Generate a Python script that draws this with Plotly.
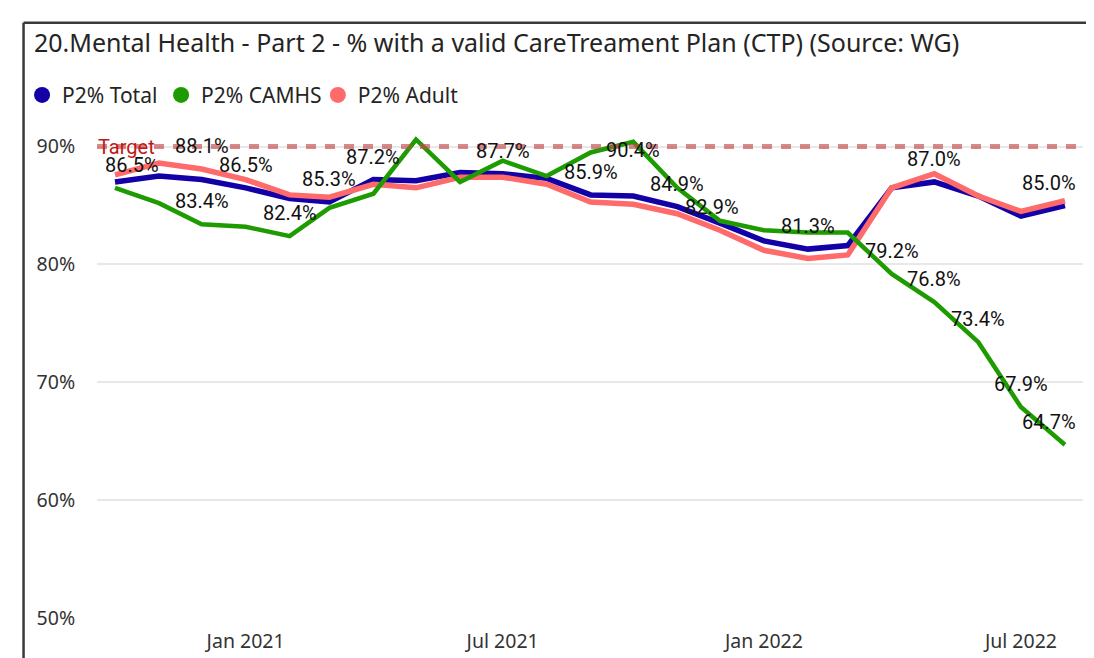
import plotly.graph_objects as go

months = ["2020-10-01", "2020-11-01", "2020-12-01", "2021-01-01", "2021-02-01", "2021-03-01",
          "2021-04-01", "2021-05-01", "2021-06-01", "2021-07-01", "2021-08-01", "2021-09-01",
          "2021-10-01", "2021-11-01", "2021-12-01", "2022-01-01", "2022-02-01", "2022-03-01",
          "2022-04-01", "2022-05-01", "2022-06-01", "2022-07-01", "2022-08-01"]

p2_total = [87.0, 87.5, 87.2, 86.5, 85.6, 85.3, 87.2, 87.1, 87.8, 87.7, 87.3, 85.9,
            85.8, 84.9, 83.5, 82.0, 81.3, 81.6, 86.5, 87.0, 85.8, 84.1, 85.0]
p2_camhs = [86.5, 85.2, 83.4, 83.2, 82.4, 84.8, 86.0, 90.6, 87.0, 88.8, 87.5, 89.5,
            90.4, 86.5, 83.7, 82.9, 82.7, 82.7, 79.2, 76.8, 73.4, 67.9, 64.7]
p2_adult = [87.6, 88.6, 88.1, 87.2, 85.9, 85.7, 86.8, 86.5, 87.4, 87.4, 86.8, 85.3,
            85.1, 84.3, 82.9, 81.2, 80.5, 80.8, 86.5, 87.7, 85.8, 84.5, 85.4]

target = 90.0

series_names = ["P2% Total", "P2% CAMHS", "P2% Adult"]
series_colors = ["#1300A6", "#1E9B00", "#FF6A6A"]

# data labels shown: month indices per series
labels_total = [3, 5, 6, 9, 11, 13, 16, 19, 22]
labels_camhs = [0, 2, 4, 12, 18, 19, 20, 21, 22]
labels_adult = [2, 14]

tick_vals = ["2021-01-01", "2021-07-01", "2022-01-01", "2022-07-01"]
tick_text = ["Jan 2021", "Jul 2021", "Jan 2022", "Jul 2022"]
y_ticks = [50, 60, 70, 80, 90]
y_ticktext = ["50%", "60%", "70%", "80%", "90%"]

fig = go.Figure()

values = {"P2% Total": p2_total, "P2% CAMHS": p2_camhs, "P2% Adult": p2_adult}
widths = {"P2% Total": 5.5, "P2% CAMHS": 4.5, "P2% Adult": 5.5}
draw_order = ["P2% Total", "P2% Adult", "P2% CAMHS"]
colors = dict(zip(series_names, series_colors))

for name in draw_order:
    fig.add_trace(go.Scatter(x=months, y=values[name], mode="lines", name=name,
                             line=dict(color=colors[name], width=widths[name]),
                             showlegend=False, hoverinfo="x+y"))

# one legend per series so each entry can be placed like the original
legend_ids = ["legend", "legend2", "legend3"]
legend_x = [-0.076, 0.065, 0.224]
for name, lid in zip(series_names, legend_ids):
    fig.add_trace(go.Scatter(x=[None], y=[None], mode="markers", name=name, legend=lid,
                             marker=dict(color=colors[name], size=16, symbol="circle")))

label_font = dict(family="Roboto, DejaVu Sans", size=20, color="#111111")

def add_labels(vals, idxs):
    for i in idxs:
        xshift = 0
        yshift = 23
        if i == 0:
            xshift = 17
        if i == len(months) - 1:
            xshift = -16
        if vals is p2_camhs and i == 12:
            yshift = -8
        if vals is p2_adult and i == 14:
            xshift = -8
        fig.add_annotation(x=months[i], y=vals[i], text=f"{vals[i]:.1f}%", showarrow=False,
                           xref="x", yref="y", xshift=xshift, yshift=yshift, font=label_font)

add_labels(p2_total, labels_total)
add_labels(p2_camhs, labels_camhs)
add_labels(p2_adult, labels_adult)

# target line
fig.add_shape(type="line", xref="paper", x0=0, x1=1, yref="y", y0=target, y1=target,
              line=dict(color="rgba(195,75,75,0.65)", width=5, dash="10px,9px"), layer="above")
fig.add_annotation(xref="paper", x=0.0, yref="y", y=target, text="Target", showarrow=False,
                   xanchor="left", yanchor="middle", xshift=-1,
                   font=dict(family="Roboto, DejaVu Sans", size=20, color="#C01818"))

# visual border
fig.add_shape(type="line", xref="paper", yref="paper", x0=-0.0745, x1=1.03, y0=1.2025, y1=1.2025,
              line=dict(color="#3a3a3a", width=2.5))
fig.add_shape(type="line", xref="paper", yref="paper", x0=-0.0745, x1=-0.0745, y0=1.2025, y1=-0.12,
              line=dict(color="#3a3a3a", width=2.5))

legend_style = dict(orientation="h", xanchor="left", y=1.056, yanchor="middle",
                    font=dict(family="Noto Sans, Open Sans", size=21, color="#252423"),
                    itemwidth=30, bgcolor="rgba(0,0,0,0)")

# page body has an 8px margin: shift everything up/left by 8px
fig.update_layout(
    width=1094, height=658,
    margin=dict(l=89, r=19, t=115, b=39),
    paper_bgcolor="white", plot_bgcolor="white",
    title=dict(text="20.Mental Health - Part 2 - % with a valid CareTreament Plan (CTP) (Source: WG)",
               x=26 / 1094, xanchor="left", xref="container",
               y=1 - 35 / 658, yanchor="middle", yref="container",
               font=dict(family="Noto Sans, Open Sans", size=25, color="#252423")),
    legend=dict(x=legend_x[0], **legend_style),
    legend2=dict(x=legend_x[1], **legend_style),
    legend3=dict(x=legend_x[2], **legend_style),
    font=dict(family="Noto Sans, Open Sans", color="#444444"),
)

fig.update_xaxes(type="date", range=["2020-09-18 08:00", "2022-08-13 17:00"],
                 tickvals=tick_vals, ticktext=tick_text, showgrid=False, zeroline=False,
                 showline=False, ticks="outside", ticklen=6, tickcolor="white",
                 tickfont=dict(family="Noto Sans, Open Sans", size=19.5, color="#333333"))
fig.update_yaxes(range=[50, 92], tickvals=y_ticks, ticktext=y_ticktext,
                 showgrid=True, gridcolor="#E8E8E8", gridwidth=2, zeroline=False,
                 showline=False, ticks="outside", ticklen=17, tickcolor="white",
                 tickfont=dict(family="Noto Sans, Open Sans", size=19.5, color="#333333"))

fig.write_html("out.html")
